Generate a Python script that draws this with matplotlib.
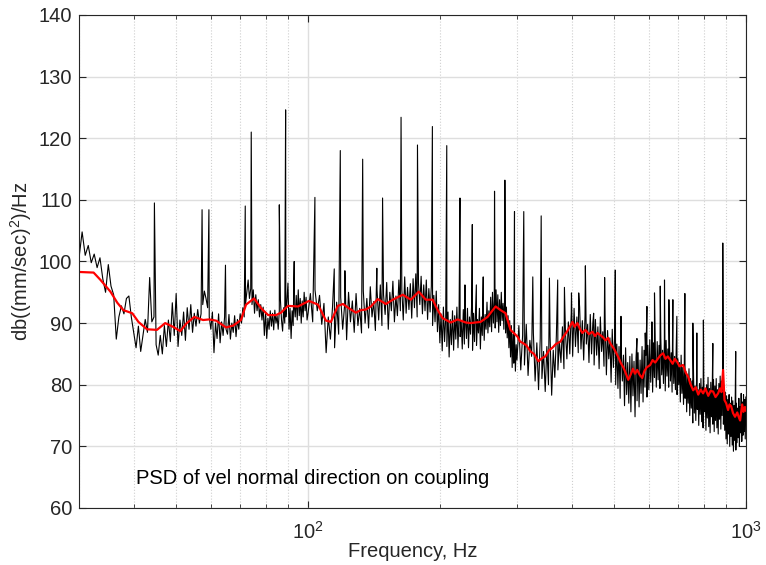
import matplotlib.pyplot as plt
import numpy as np

plt.rcParams['font.family'] = ['Liberation Sans', 'DejaVu Sans']
plt.rcParams['mathtext.fontset'] = 'custom'
plt.rcParams['mathtext.rm'] = 'Liberation Sans'
plt.rcParams['mathtext.it'] = 'Liberation Sans:italic'

# PSD trace (dB), three bin widths
psd_lo = [  # 30 - 99.5 Hz, 0.5 Hz bins
    100.5, 104.8, 101.0, 102.6, 99.8, 101.2, 99.0, 100.6, 97.2, 95.0,
    99.5, 96.0, 94.6, 87.4, 91.0, 92.8, 91.5, 94.0, 94.4, 91.0,
    88.5, 86.0, 89.5, 85.4, 88.0, 90.6, 88.5, 97.4, 90.2, 91.0,
    86.5, 84.8, 88.0, 85.0, 89.6, 86.2, 90.5, 87.0, 93.3, 88.0,
    94.8, 86.2, 90.5, 88.0, 91.8, 87.2, 92.5, 89.0, 93.0, 88.5,
    91.6, 89.5, 92.2, 90.0, 91.5, 93.0, 95.2, 94.0, 92.5, 91.0,
    89.0, 91.8, 85.2, 90.0, 87.5, 91.5, 86.8, 90.2, 88.0, 91.0,
    89.0, 88.2, 91.4, 87.4, 90.0, 88.5, 91.2, 87.8, 90.6, 89.0,
    91.5, 90.0, 92.5, 91.0, 93.0, 95.0, 97.0, 94.0, 95.6, 93.0,
    95.4, 91.6, 94.6, 92.0, 93.8, 91.0, 93.0, 90.5, 92.6, 88.0,
    91.8, 87.5, 90.8, 89.0, 92.0, 89.5, 91.6, 88.9, 92.1, 90.0,
    91.2, 89.0, 92.0, 93.8, 90.5, 88.7, 92.5, 90.0, 91.0, 93.5,
    96.5, 89.0, 92.4, 87.5, 92.0, 89.6, 93.0, 91.0, 94.5, 90.5,
    95.4, 91.2, 94.0, 90.0, 93.6, 91.0, 95.0, 92.0, 94.2, 90.5,
]
psd_mid = [  # 100 - 298.75 Hz, 1.25 Hz bins
    91.5, 94.8, 90.2, 95.4, 92.0, 94.5, 89.8, 93.2,
    85.2, 91.0, 87.4, 92.6, 86.0, 93.4, 88.2, 94.2,
    89.0, 93.0, 87.3, 95.0, 90.2, 93.6, 88.5, 94.8,
    89.6, 92.4, 88.4, 95.2, 90.0, 94.0, 89.2, 95.9,
    91.0, 93.5, 88.8, 95.4, 90.5, 96.2, 89.6, 94.6,
    91.4, 96.6, 89.0, 95.0, 92.0, 96.8, 90.2, 94.4,
    91.2, 97.0, 92.0, 95.5, 90.5, 97.5, 91.6, 95.8,
    92.2, 96.4, 90.8, 97.2, 92.5, 98.0, 91.0, 96.5,
    93.0, 97.6, 91.5, 96.2, 92.0, 97.0, 90.6, 95.6,
    91.8, 96.0, 89.6, 94.5, 90.2, 95.2, 88.6, 93.0,
    86.8, 91.5, 85.5, 92.6, 87.0, 90.8, 86.2, 91.8,
    84.5, 90.6, 86.5, 92.0, 85.6, 91.2, 87.4, 92.6,
    86.0, 91.5, 87.8, 90.4, 85.8, 92.2, 86.6, 90.8,
    87.5, 92.4, 86.0, 91.0, 88.2, 92.6, 85.6, 91.6,
    87.0, 92.0, 86.4, 90.6, 88.4, 92.4, 85.8, 91.0,
    88.0, 92.6, 87.2, 91.4, 89.0, 93.4, 88.4, 92.0,
    89.4, 94.2, 88.6, 95.0, 90.0, 93.8, 89.2, 95.4,
    90.2, 94.6, 88.5, 93.8, 89.6, 95.0, 90.4, 93.2,
    89.0, 94.8, 88.4, 92.6, 87.6, 91.2, 86.0, 90.4,
    84.5, 89.6, 82.8, 88.2, 83.5, 87.8, 82.2, 86.5,
]
psd_hi = [  # 300 - 999 Hz, 3 Hz bins
    84.0, 89.6, 82.4, 88.0, 83.2, 89.8, 81.5, 87.2, 84.6, 88.4,
    80.6, 86.8, 79.2, 87.5, 81.0, 85.4, 78.9, 86.2, 80.0, 87.8,
    78.3, 85.6, 81.2, 88.0, 82.4, 87.0, 83.6, 89.4, 82.6, 88.6,
    84.2, 90.2, 85.0, 91.6, 84.6, 92.4, 86.2, 91.0, 85.2, 92.6,
    85.8, 90.4, 84.0, 91.2, 86.6, 89.8, 83.6, 91.4, 85.0, 90.0,
    83.2, 90.6, 84.8, 89.4, 82.6, 91.0, 85.4, 88.6, 83.0, 89.8,
    81.6, 88.8, 84.2, 87.6, 80.4, 89.0, 82.8, 87.4, 80.0, 86.6,
    79.4, 86.2, 77.8, 85.4, 80.6, 84.8, 76.6, 86.0, 78.4, 83.6,
    77.0, 84.6, 75.6, 85.0, 78.2, 83.8, 74.8, 84.4, 77.4, 85.2,
    76.4, 84.0, 78.6, 86.2, 77.2, 85.6, 79.6, 84.8, 78.0, 86.4,
    79.2, 87.3, 80.4, 85.8, 78.8, 86.8, 81.2, 85.2, 79.6, 87.0,
    80.8, 86.4, 79.4, 87.6, 81.6, 85.6, 80.2, 86.8, 79.0, 87.2,
    81.4, 85.8, 79.6, 86.4, 80.6, 85.2, 78.8, 86.0, 80.2, 84.6,
    79.2, 85.6, 78.4, 84.2, 80.0, 83.6, 77.2, 84.8, 78.6, 82.8,
    76.8, 83.4, 77.8, 82.2, 75.6, 81.6, 77.0, 82.6, 75.0, 81.0,
    76.2, 80.6, 73.8, 81.4, 75.4, 79.8, 74.2, 80.8, 76.0, 79.2,
    73.4, 80.2, 75.2, 81.0, 74.0, 79.6, 73.0, 80.6, 75.6, 79.0,
    72.6, 80.0, 74.6, 81.2, 73.2, 79.4, 72.2, 80.4, 74.8, 78.6,
    73.6, 80.8, 72.4, 79.8, 74.2, 81.0, 73.0, 79.2, 72.0, 80.2,
    74.4, 81.4, 72.8, 80.6, 75.0, 82.2, 73.6, 79.4, 72.6, 78.8,
    71.2, 78.2, 70.4, 77.6, 72.0, 78.4, 70.0, 77.0, 71.6, 78.0,
    70.2, 77.4, 69.2, 76.6, 71.0, 78.2, 69.4, 77.0, 70.6, 76.2,
    71.4, 77.8, 70.0, 76.4, 72.2, 78.6, 70.8, 77.2, 71.8, 78.4,
    72.4, 77.6, 71.2, 78.0,
]

# harmonic peaks (Hz, dB)
spike_f = [44.6, 57.3, 59.4, 64.8, 71.9, 74.2, 86.0, 88.9, 93.0, 103.7,
           114.8, 118.5, 121.4, 133.3, 143.6, 148.0, 163.1, 177.8, 192.3, 207.4,
           222.3, 228.2, 237.2, 242.3, 251.2, 266.6, 281.5, 296.1, 310.9, 326.0,
           340.7, 355.8, 371.6, 385.0, 399.5, 415.0, 429.8, 448.9, 475.6, 503.0,
           518.3, 563.6, 588.7, 594.0, 609.8, 618.1, 637.1, 651.5, 666.7, 680.8,
           695.2, 725.1, 756.2, 772.2, 799.3, 840.0, 885.1, 947.3]
spike_db = [109.5, 108.4, 108.4, 99.4, 109.0, 121.0, 109.2, 124.6, 100.0, 110.4,
            98.8, 118.0, 98.5, 116.6, 98.9, 110.3, 123.4, 118.9, 121.9, 118.8,
            110.3, 96.2, 106.0, 96.2, 97.5, 111.4, 113.2, 108.1, 108.1, 97.5,
            107.4, 97.3, 97.0, 95.8, 94.9, 94.9, 99.3, 91.6, 97.4, 98.6,
            91.1, 87.5, 88.4, 92.7, 90.2, 94.9, 96.0, 97.0, 93.8, 93.8,
            91.1, 94.8, 90.0, 88.4, 90.5, 86.7, 103.0, 85.4]

# smoothed PSD (red)
smooth_f = [30, 32.4, 33.6, 35.4, 36.7, 37.9, 39.7, 41.0, 42.9, 45.2,
            47.2, 49.2, 51.1, 52.7, 55.0, 57.6, 59.5, 61.7, 65.0, 67.5,
            70.3, 72.2, 75.3, 78.2, 81.1, 84.5, 86.8, 90.0, 94.9, 100.5,
            105.4, 109.9, 112.8, 117.0, 120.2, 124.0, 128.6, 132.0, 135.5, 139.2,
            144.3, 150.6, 156.2, 164.6, 171.7, 179.0, 185.8, 192.6, 197.8, 203.0,
            211.8, 219.6, 229.1, 235.1, 247.8, 257.0, 268.1, 275.3, 282.5, 290.0,
            300.9, 305, 308.9, 315, 322.1, 328, 335.9, 342, 348.4, 355,
            361.4, 368, 376.9, 383, 390, 396, 401.5, 406, 412.1, 418,
            423.1, 430, 438, 445.9, 452, 458, 469.9, 478, 484, 490,
            500, 510.9, 518, 525, 532, 538.5, 545, 552, 558, 564.5,
            572, 579.5, 586, 593, 604.3, 612, 620.4, 630.2, 638, 647,
            655, 663, 671.3, 680, 688, 696.3, 705, 718.6, 728, 737.8,
            746, 757.4, 768, 778, 788, 798.2, 808, 820, 830, 841.2,
            852, 863.6, 872, 879, 886.5, 893, 901, 910, 917, 925,
            934, 944, 955, 962, 969.4, 975, 980, 987, 994.7, 1000]
smooth_db = [98.3, 98.2, 97.0, 95.1, 93.3, 92.1, 91.6, 90.2, 89.0, 88.9,
             90.0, 89.4, 88.7, 89.9, 91.0, 90.5, 90.6, 90.4, 89.3, 89.6,
             90.5, 93.0, 94.0, 92.4, 91.3, 91.3, 91.7, 92.8, 92.7, 93.6,
             93.0, 90.4, 90.2, 92.8, 93.1, 92.4, 91.7, 92.1, 92.2, 92.7,
             93.9, 93.1, 93.8, 94.6, 93.8, 95.1, 93.8, 93.8, 92.1, 90.8,
             90.1, 90.6, 90.1, 90.0, 90.2, 91.0, 92.7, 92.1, 91.6, 88.9,
             87.8, 87.0, 86.8, 86.4, 85.4, 85.0, 83.8, 84.3, 84.6, 85.6,
             86.0, 86.6, 87.0, 87.8, 88.6, 89.4, 90.2, 89.4, 90.0, 89.0,
             88.4, 88.9, 88.2, 88.6, 87.9, 88.4, 87.8, 87.2, 87.6, 86.7,
             85.8, 84.5, 83.5, 82.8, 81.8, 80.8, 81.6, 82.6, 81.8, 82.4,
             81.6, 81.1, 82.2, 82.8, 83.2, 84.0, 83.6, 84.3, 84.8, 85.1,
             84.2, 84.6, 84.0, 83.4, 84.2, 83.7, 83.0, 83.2, 82.0, 81.3,
             80.2, 79.1, 79.6, 78.4, 79.2, 78.6, 79.4, 78.2, 79.0, 78.9,
             78.0, 78.6, 79.4, 78.8, 82.4, 77.5, 77.0, 75.9, 76.8, 76.5,
             75.4, 74.8, 75.5, 74.8, 74.2, 75.6, 76.8, 75.6, 76.4, 75.8]

f_lo = 30 + 0.5 * np.arange(len(psd_lo))
f_mid = 100 + 1.25 * np.arange(len(psd_mid))
f_hi = 300 + 3.0 * np.arange(len(psd_hi))

f = np.concatenate([f_lo, f_mid, f_hi, spike_f])
db = np.concatenate([psd_lo, psd_mid, psd_hi, spike_db])
order = np.argsort(f)

fig = plt.figure(figsize=(7.66, 5.65), dpi=100)
ax = fig.add_axes([0.1031, 0.1009, 0.8708, 0.8726])

ax.semilogx(f[order], db[order], color='k', lw=0.8)
ax.semilogx(smooth_f, smooth_db, color='r', lw=1.6)

ax.set_xlim(30, 1000)
ax.set_ylim(60, 140)
ax.set_yticks(np.arange(60, 141, 10))

ax.set_axisbelow(True)
ax.grid(True, which='major', color='#dedede', lw=1.0, ls='-')
ax.grid(True, which='minor', axis='x', color='#cfcfcf', lw=0.8, ls=':')

for s in ax.spines.values():
    s.set_color('#262626')
    s.set_linewidth(0.8)
ax.tick_params(which='both', direction='in', top=True, right=True,
               colors='#262626', labelsize=14.5)
ax.tick_params(which='major', length=5)
ax.tick_params(which='minor', length=3)
ax.tick_params(axis='x', which='major', pad=9)
ax.tick_params(axis='y', which='major', pad=5)

ax.set_xlabel('Frequency, Hz', fontsize=14.5, color='#262626', labelpad=0)
ax.set_ylabel(r'db((mm/sec)$^{\mathdefault{2}}$)/Hz', fontsize=14.5,
              color='#262626', labelpad=3)

ax.text(40.5, 64.8, 'PSD of vel normal direction on coupling',
        fontsize=14.5, va='center', ha='left', color='k')

fig.savefig('out.png', dpi=100)
